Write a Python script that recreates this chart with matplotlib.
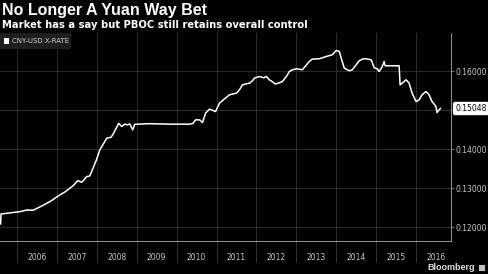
import matplotlib.pyplot as plt
import matplotlib.patches as mpatches

# CNY-USD rate (decimal year, value)
dates = [2005.59, 2005.60, 2006.075, 2006.25, 2006.40, 2006.575, 2006.825,
         2007.075, 2007.20, 2007.40, 2007.525, 2007.625, 2007.75, 2007.825,
         2007.90, 2008.0, 2008.075, 2008.25, 2008.35, 2008.40, 2008.50,
         2008.55, 2008.625, 2008.70, 2008.775, 2008.825, 2008.90, 2008.95,
         2009.325, 2009.825, 2010.325, 2010.40, 2010.475, 2010.575, 2010.65,
         2010.725, 2010.825, 2010.90, 2010.975, 2011.075, 2011.20, 2011.325,
         2011.425, 2011.50, 2011.575, 2011.65, 2011.75, 2011.825, 2011.90,
         2011.95, 2012.075, 2012.175, 2012.25, 2012.325, 2012.40, 2012.475,
         2012.575, 2012.65, 2012.75, 2012.825, 2012.90, 2013.0, 2013.15,
         2013.325, 2013.40, 2013.575, 2013.75, 2013.90, 2014.0, 2014.075,
         2014.15, 2014.20, 2014.325, 2014.40, 2014.50, 2014.575, 2014.675,
         2014.75, 2014.875, 2014.95, 2015.025, 2015.075, 2015.15, 2015.20,
         2015.225, 2015.325, 2015.575, 2015.60, 2015.65, 2015.75, 2015.825,
         2015.90, 2016.0, 2016.075, 2016.15, 2016.25, 2016.325, 2016.40,
         2016.50, 2016.525, 2016.575, 2016.61]
rate = [0.1208, 0.12335, 0.12395, 0.12438, 0.12430, 0.12516, 0.12652,
        0.12825, 0.12900, 0.13056, 0.13193, 0.13152, 0.13296, 0.13314,
        0.13500, 0.13750, 0.13983, 0.14285, 0.14305, 0.14370, 0.14568,
        0.14666, 0.14584, 0.14645, 0.14627, 0.14653, 0.14499, 0.14640,
        0.14658, 0.14645, 0.14645, 0.14658, 0.14756, 0.14756, 0.14687,
        0.14929, 0.15032, 0.15001, 0.14970, 0.15186, 0.15297, 0.15400,
        0.15426, 0.15444, 0.15529, 0.15657, 0.15683, 0.15701, 0.15760,
        0.15830, 0.15871, 0.15838, 0.15871, 0.15786, 0.15735, 0.15676,
        0.15709, 0.15742, 0.15871, 0.16000, 0.16044, 0.16070, 0.16044,
        0.16258, 0.16319, 0.16327, 0.16386, 0.16430, 0.16541, 0.16515,
        0.16258, 0.16088, 0.16018, 0.16044, 0.16173, 0.16276, 0.16327,
        0.16327, 0.16301, 0.16095, 0.16070, 0.16000, 0.16121, 0.16258,
        0.16147, 0.16147, 0.16147, 0.15657, 0.15701, 0.15786, 0.15701,
        0.15444, 0.15227, 0.15271, 0.15400, 0.15485, 0.15400, 0.15227,
        0.15099, 0.14944, 0.15010, 0.15048]

years = list(range(2006, 2017))
y_ticks = [0.12, 0.13, 0.14, 0.15, 0.16]
last_value = 0.15048

fig = plt.figure(figsize=(4.88, 2.74), dpi=100, facecolor='black')
ax = fig.add_axes([0, 33 / 274, 451 / 488, 208 / 274])
ax.set_facecolor('black')

ax.plot(dates, rate, color='white', lw=1.1)

ax.set_xlim(2005.575, 2016.875)
ax.set_ylim(0.1164, 0.1699)

# grid lines at year boundaries, labels at mid-year
ax.set_xticks(years)
ax.set_xticklabels([])
ax.set_xticks([y + 0.5 for y in years], minor=True)
ax.set_xticklabels([str(y) for y in years], minor=True)
ax.tick_params(axis='x', which='major', length=15, width=0.6, color='#3a3a3a', direction='out')
ax.tick_params(axis='x', which='minor', length=0, labelsize=5.5, labelcolor='#c8c8c8', pad=9)

# 0.15 label is covered by the last-value tag
ax.yaxis.tick_right()
ax.set_yticks(y_ticks)
ax.set_yticklabels(['' if v == 0.15 else '%.5f' % v for v in y_ticks])
ax.tick_params(axis='y', length=2, width=0.6, color='#888888', labelsize=5.5,
               labelcolor='#c8c8c8', pad=1.5)

ax.grid(True, which='major', color='#333333', lw=0.6)
for s in ['top', 'left']:
    ax.spines[s].set_visible(False)
for s in ['right', 'bottom']:
    ax.spines[s].set_color('#8a8a8a')
    ax.spines[s].set_linewidth(0.8)

# last value tag
ax.annotate('%.5f' % last_value, xy=(1.0, last_value), xycoords=('axes fraction', 'data'),
            xytext=(3, 0), textcoords='offset points', ha='left', va='center',
            fontsize=5.5, color='black',
            bbox=dict(boxstyle='round,pad=0.2', fc='white', ec='white'))

# legend
ax.add_patch(mpatches.Rectangle((0, 0.925), 0.158, 0.075, transform=ax.transAxes,
                                facecolor='#1e1e1e', edgecolor='none', zorder=3))
ax.add_patch(mpatches.Rectangle((0.009, 0.947), 0.012, 0.03, transform=ax.transAxes,
                                facecolor='white', edgecolor='none', zorder=4))
ax.text(0.026, 0.962, 'CNY-USD X-RATE', transform=ax.transAxes, fontsize=5,
        color='#d0d0d0', va='center', ha='left', zorder=4)

fig.text(2 / 488, 1 - 10 / 274, 'No Longer A Yuan Way Bet', fontsize=11.5,
         fontweight='bold', color='white', family='Liberation Sans', va='center')
fig.text(2 / 488, 1 - 24.5 / 274, 'Market has a say but PBOC still retains overall control',
         fontsize=7.2, fontweight='bold', color='white', family='DejaVu Sans', va='center')
fig.text(475 / 488, 1 - 268 / 274, 'Bloomberg', fontsize=6.5, fontweight='bold',
         color='#e0e0e0', ha='right', va='center', family='Liberation Sans')
fig.patches.append(mpatches.Rectangle((479 / 488, 1 - 271 / 274), 6 / 488, 6 / 274,
                                      transform=fig.transFigure, facecolor='#c0c0c0',
                                      edgecolor='none'))

fig.savefig('out.png', dpi=100, facecolor='black')
